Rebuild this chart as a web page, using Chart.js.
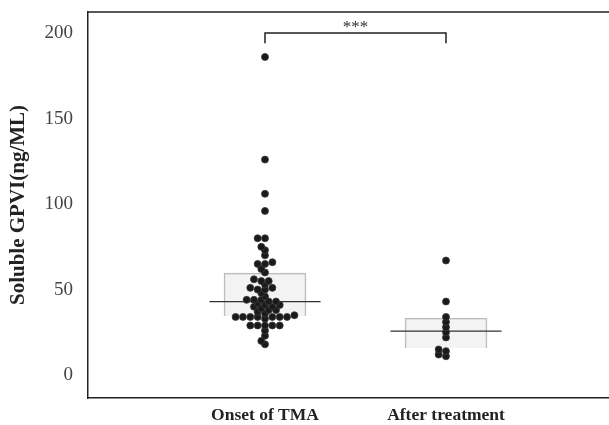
<!DOCTYPE html>
<html>
<head>
<meta charset="utf-8">
<script src="https://cdn.jsdelivr.net/npm/chart.js@4/dist/chart.umd.min.js"></script>
<style>
  html, body { margin: 0; padding: 0; background: #fff; }
  #wrap { width: 609px; height: 425px; }
</style>
</head>
<body>
<div id="wrap"><canvas id="myChart" width="609" height="425"></canvas></div>
<script>
const categories = ["Onset of TMA", "After treatment"];
const onsetValues = [186, 126, 106, 96, 80, 80, 75, 73, 70, 66, 65, 65, 62, 60, 56, 55, 55, 53, 51, 51,
  50, 50, 48, 46, 44, 44, 44, 43, 43, 42, 41, 41, 40, 40, 39, 38, 38, 37, 36, 35,
  34, 34, 34, 34, 34, 34, 34, 33, 29, 29, 29, 29, 29, 26, 23, 20, 18];
const afterValues = [67, 43, 34, 31, 28, 25, 22, 15, 14, 12, 11];
// [q1, median, q3]
const onsetBox = [34.5, 42.9, 59.6];
const afterBox = [15.8, 25.7, 33.3];
const yTicks = [0, 50, 100, 150, 200];
const sigLabel = "***";
const sigLevel = 200;

const PX_PER_X = 181, PX_PER_Y = 1.71, GAP = 4.9;

// simple beeswarm: push each dot sideways until it stops overlapping
function swarm(values, pos) {
  const sorted = values.slice().sort((a, b) => a - b);
  const placed = [];
  const out = [];
  sorted.forEach(v => {
    let off = 0;
    for (let k = 0; k < 60; k++) {
      const step = Math.ceil(k / 2) * (GAP * 0.75);
      const cand = k % 2 === 1 ? -step : step;
      const hit = placed.some(p => {
        const dx = cand - p.off, dy = (v - p.v) * PX_PER_Y;
        return dx * dx + dy * dy < GAP * GAP;
      });
      if (!hit) { off = cand; break; }
    }
    placed.push({ v: v, off: off });
    out.push({ x: pos + off / PX_PER_X, y: v });
  });
  return out;
}

const halfMed = 0.307;
function medianLine(pos, box) {
  return [{ x: pos - halfMed, y: box[1] }, { x: pos + halfMed, y: box[1] }];
}

const sigText = {
  id: "sigText",
  afterDatasetsDraw(chart) {
    const { ctx, scales, chartArea } = chart;
    ctx.save();
    // top frame line
    ctx.strokeStyle = "#222";
    ctx.lineWidth = 1.5;
    ctx.beginPath();
    ctx.moveTo(chartArea.left, chartArea.top);
    ctx.lineTo(chartArea.right, chartArea.top);
    ctx.stroke();
    ctx.fillStyle = "#333";
    ctx.font = "17px 'Liberation Serif'";
    ctx.textAlign = "center";
    ctx.textBaseline = "alphabetic";
    ctx.fillText(sigLabel, scales.x.getPixelForValue(1.5), scales.y.getPixelForValue(sigLevel) - 1);
    ctx.restore();
  },
};

const ctx = document.getElementById("myChart").getContext("2d");

const gpviChart = new Chart(ctx, {
  type: "scatter",
  data: {
    datasets: [
      {
        type: "bar",
        label: "IQR",
        data: [
          { x: 1, y: [onsetBox[0], onsetBox[2]] },
          { x: 2, y: [afterBox[0], afterBox[2]] },
        ],
        backgroundColor: "rgba(228,228,228,0.45)",
        borderColor: "#b8b8b8",
        borderWidth: 1,
        barThickness: 82,
        order: 3,
      },
      { type: "line", data: medianLine(1, onsetBox), borderColor: "#333", borderWidth: 1.2, pointRadius: 0, order: 2 },
      { type: "line", data: medianLine(2, afterBox), borderColor: "#333", borderWidth: 1.2, pointRadius: 0, order: 2 },
      {
        type: "line",
        data: [
          { x: 1, y: sigLevel - 6 },
          { x: 1, y: sigLevel },
          { x: 2, y: sigLevel },
          { x: 2, y: sigLevel - 6 },
        ],
        borderColor: "#222",
        borderWidth: 1.5,
        pointRadius: 0,
        order: 2,
      },
      {
        label: categories[0],
        data: swarm(onsetValues, 1),
        backgroundColor: "#1a1a1a",
        borderColor: "#3a3a3a",
        borderWidth: 0.8,
        pointRadius: 3.5,
        order: 1,
      },
      {
        label: categories[1],
        data: swarm(afterValues, 2),
        backgroundColor: "#1a1a1a",
        borderColor: "#3a3a3a",
        borderWidth: 0.8,
        pointRadius: 3.5,
        order: 1,
      },
    ],
  },
  options: {
    responsive: false,
    animation: false,
    layout: { autoPadding: false, padding: { top: 12, right: 0, left: 0, bottom: 0 } },
    plugins: {
      legend: { display: false },
      tooltip: { enabled: false },
    },
    scales: {
      x: {
        type: "linear",
        offset: false,
        min: 0.0221,
        max: 2.9006,
        grid: { display: false, drawTicks: false },
        border: { display: true, color: "#222", width: 1.5 },
        afterBuildTicks: (axis) => { axis.ticks = [{ value: 1 }, { value: 2 }]; },
        afterFit: (axis) => {
          axis.height = 27;
          axis.paddingLeft = 0;
          axis.paddingRight = 0;
        },
        ticks: {
          padding: 7,
          maxRotation: 0,
          color: "#222",
          font: { family: "'Liberation Serif'", size: 17.5, weight: "bold" },
          callback: (v) => categories[v - 1] || "",
        },
      },
      y: {
        min: -13.4,
        max: 212.3,
        grid: { display: false, drawTicks: false },
        border: { display: true, color: "#222", width: 1.5 },
        afterBuildTicks: (axis) => { axis.ticks = yTicks.map(v => ({ value: v })); },
        afterFit: (axis) => {
          axis.width = 88;
          axis.paddingTop = 0;
          axis.paddingBottom = 0;
        },
        ticks: {
          padding: 15,
          color: "#444",
          font: { family: "'Liberation Serif'", size: 19 },
        },
        title: {
          display: true,
          text: "Soluble GPVI(ng/ML)",
          color: "#222",
          padding: { top: 6, bottom: 0 },
          font: { family: "'Liberation Serif'", size: 21, weight: "bold" },
        },
      },
    },
  },
  plugins: [sigText],
});
</script>
</body>
</html>
